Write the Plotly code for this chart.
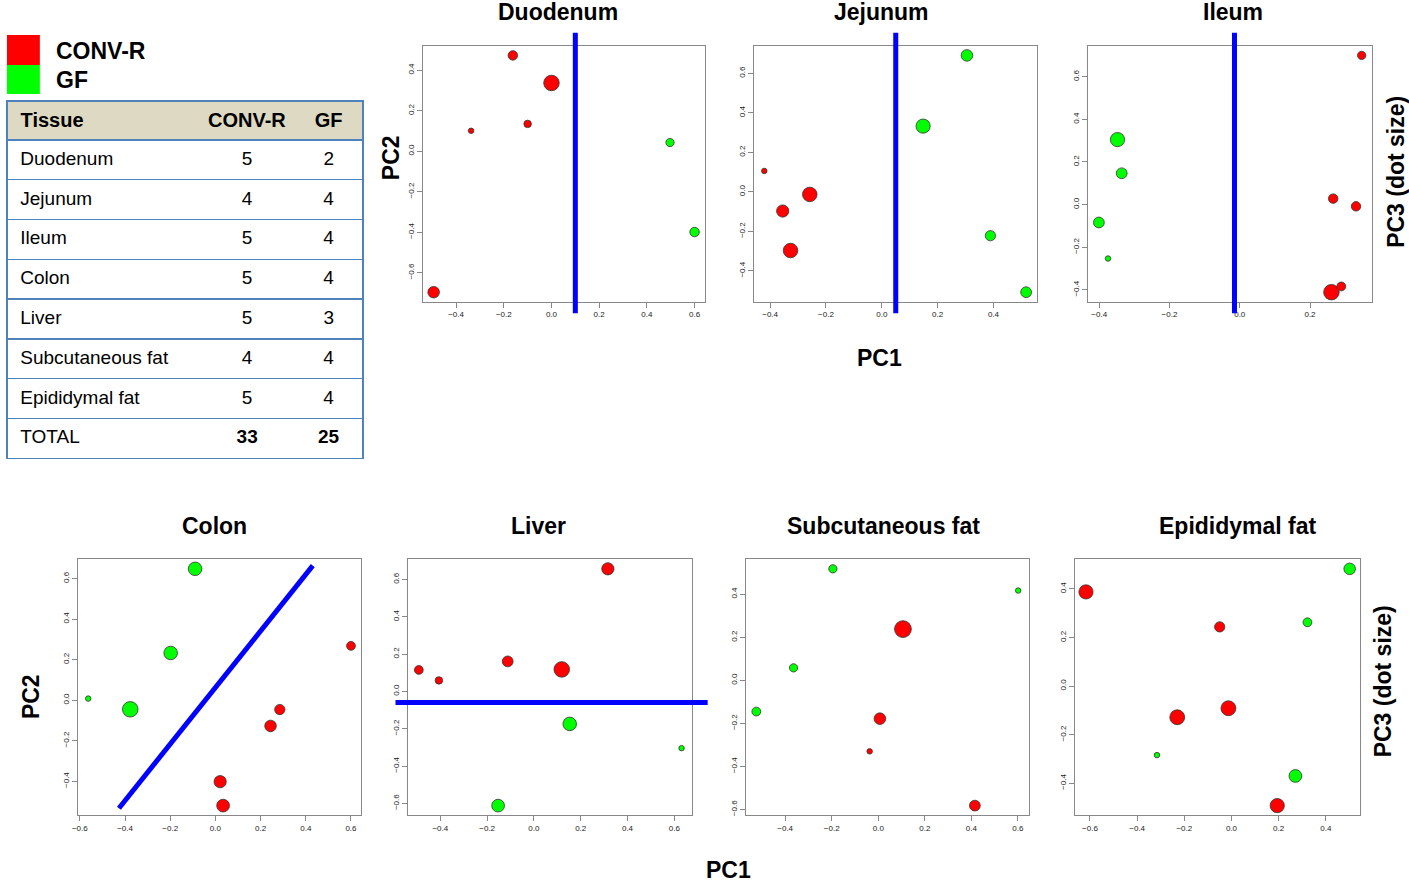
import plotly.graph_objects as go

# Sample counts per tissue (table on the left)
tissues = ["Duodenum", "Jejunum", "Ileum", "Colon", "Liver", "Subcutaneous fat", "Epididymal fat"]
conv_counts = [5, 4, 5, 5, 5, 4, 5]
gf_counts = [2, 4, 4, 4, 3, 4, 4]

# PCA scores, CONV-R samples first then GF (pc3 drives the dot size)
duodenum_pc1 = [-0.494, -0.162, 0.000, -0.337, -0.100, 0.497, 0.600]
duodenum_pc2 = [-0.696, 0.473, 0.337, 0.101, 0.135, 0.043, -0.399]
duodenum_pc3 = [0.55, 0.36, 0.91, 0.00, 0.18, 0.25, 0.36]

jejunum_pc1 = [-0.421, -0.258, -0.355, -0.327, 0.305, 0.148, 0.389, 0.517]
jejunum_pc2 = [0.106, -0.013, -0.097, -0.297, 0.691, 0.333, -0.222, -0.508]
jejunum_pc3 = [0.00, 0.82, 0.61, 0.82, 0.55, 0.79, 0.43, 0.48]

ileum_pc1 = [0.347, 0.266, 0.331, 0.261, 0.289, -0.348, -0.336, -0.401, -0.375]
ileum_pc2 = [0.700, 0.028, -0.008, -0.411, -0.384, 0.305, 0.147, -0.084, -0.253]
ileum_pc3 = [0.25, 0.36, 0.36, 0.91, 0.30, 0.79, 0.48, 0.48, 0.00]

colon_pc1 = [0.600, 0.285, 0.244, 0.021, 0.034, -0.563, -0.377, -0.198, -0.090]
colon_pc2 = [0.268, -0.046, -0.127, -0.402, -0.520, 0.008, -0.045, 0.233, 0.648]
colon_pc3 = [0.30, 0.43, 0.55, 0.61, 0.66, 0.00, 0.91, 0.73, 0.73]

liver_pc1 = [-0.492, -0.406, -0.112, 0.119, 0.316, 0.153, 0.631, -0.153]
liver_pc2 = [0.115, 0.059, 0.161, 0.118, 0.657, -0.174, -0.304, -0.612]
liver_pc3 = [0.30, 0.18, 0.48, 0.91, 0.61, 0.73, 0.00, 0.66]

subcut_pc1 = [0.106, 0.007, -0.037, 0.415, -0.195, 0.601, -0.364, -0.524]
subcut_pc2 = [0.238, -0.178, -0.330, -0.582, 0.518, 0.417, 0.058, -0.145]
subcut_pc3 = [1.03, 0.55, 0.00, 0.48, 0.25, 0.00, 0.25, 0.30]

epid_pc1 = [-0.617, -0.050, -0.230, -0.013, 0.194, 0.501, 0.322, -0.316, 0.271]
epid_pc2 = [0.388, 0.244, -0.128, -0.091, -0.492, 0.483, 0.263, -0.284, -0.370]
epid_pc3 = [0.79, 0.43, 0.85, 0.85, 0.79, 0.55, 0.30, 0.00, 0.66]

# separating lines
vertical_cut_tissues = ["Duodenum", "Jejunum", "Ileum"]
vertical_cut_pc1 = [0.10, 0.05, -0.015]
liver_cut_pc2 = -0.06
colon_cut_pc1 = [-0.427, 0.431]
colon_cut_pc2 = [-0.533, 0.664]

scores = {
    "Duodenum": (duodenum_pc1, duodenum_pc2, duodenum_pc3),
    "Jejunum": (jejunum_pc1, jejunum_pc2, jejunum_pc3),
    "Ileum": (ileum_pc1, ileum_pc2, ileum_pc3),
    "Colon": (colon_pc1, colon_pc2, colon_pc3),
    "Liver": (liver_pc1, liver_pc2, liver_pc3),
    "Subcutaneous fat": (subcut_pc1, subcut_pc2, subcut_pc3),
    "Epididymal fat": (epid_pc1, epid_pc2, epid_pc3),
}

RED = "#ff0000"
GREEN = "#00ff00"
BLUE = "#0000ff"
FONT = "Liberation Sans, Arial, Helvetica, sans-serif"
W, H = 1409, 885

# panel boxes in pixels (left, right, top, bottom)
boxes = {
    "Duodenum": (419, 702, 46, 302),
    "Jejunum": (751, 1035, 46, 302),
    "Ileum": (1087, 1372, 46, 302),
    "Colon": (72, 357, 560, 816),
    "Liver": (404, 689, 560, 816),
    "Subcutaneous fat": (743, 1027, 560, 816),
    "Epididymal fat": (1074, 1360, 560, 816),
}
title_x = {"Duodenum": 554, "Jejunum": 879, "Ileum": 1232, "Colon": 209,
           "Liver": 535, "Subcutaneous fat": 881, "Epididymal fat": 1237}


def r_range(v):
    lo, hi = min(v), max(v)
    pad = 0.04 * (hi - lo)
    return [lo - pad, hi + pad]


fig = go.Figure()
annotations = []
shapes = []

for i, t in enumerate(tissues):
    n = i + 1
    sfx = "" if n == 1 else str(n)
    pc1, pc2, pc3 = scores[t]
    colors = [RED] * conv_counts[i] + [GREEN] * gf_counts[i]
    sizes = [5.5 + 11 * p for p in pc3]
    fig.add_trace(go.Scatter(
        x=pc1, y=pc2, mode="markers", xaxis="x" + sfx, yaxis="y" + sfx,
        marker=dict(color=colors, size=sizes, opacity=1,
                    line=dict(color="#333", width=0.8)),
        showlegend=False, hoverinfo="x+y"))

    l, r, tp, b = boxes[t]
    axis_common = dict(showline=True, mirror=True, linecolor="#888", linewidth=1,
                       ticks="outside", ticklen=5, tickcolor="#888", showgrid=False,
                       zeroline=False, tick0=0, dtick=0.2, tickformat=".1f",
                       tickfont=dict(family=FONT, size=8, color="#222"))
    fig.update_layout(**{
        "xaxis" + sfx: dict(domain=[l / W, r / W], range=r_range(pc1),
                            anchor="y" + sfx, **axis_common),
        "yaxis" + sfx: dict(domain=[1 - b / H, 1 - tp / H], range=r_range(pc2),
                            anchor="x" + sfx, tickangle=-90, **axis_common),
    })
    annotations.append(dict(text="<b>%s</b>" % t, x=title_x[t] / W,
                            y=1 - (12 if tp < 100 else 527) / H,
                            xref="paper", yref="paper", showarrow=False,
                            xanchor="center", yanchor="middle",
                            font=dict(family=FONT, size=23, color="black")))

    if t in vertical_cut_tissues:
        cx = vertical_cut_pc1[vertical_cut_tissues.index(t)]
        shapes.append(dict(type="line", xref="x" + sfx, yref="y" + sfx + " domain",
                           x0=cx, x1=cx, y0=-0.045, y1=1.052,
                           line=dict(color=BLUE, width=5)))
    if t == "Liver":
        shapes.append(dict(type="line", xref="x" + sfx + " domain", yref="y" + sfx,
                           x0=-0.045, x1=1.055, y0=liver_cut_pc2, y1=liver_cut_pc2,
                           line=dict(color=BLUE, width=5)))
    if t == "Colon":
        shapes.append(dict(type="line", xref="x" + sfx, yref="y" + sfx,
                           x0=colon_cut_pc1[0], x1=colon_cut_pc1[1],
                           y0=colon_cut_pc2[0], y1=colon_cut_pc2[1],
                           line=dict(color=BLUE, width=5)))

# axis labels
big = dict(family=FONT, size=23, color="black")
for txt, px, py, ang in [("PC2", 386, 158, -90), ("PC2", 25, 697, -90),
                         ("PC1", 877, 358, 0), ("PC1", 726, 871, 0),
                         ("PC3 (dot size)", 1396, 172, -90),
                         ("PC3 (dot size)", 1383, 682, -90)]:
    annotations.append(dict(text="<b>%s</b>" % txt, x=px / W, y=1 - py / H,
                            xref="paper", yref="paper", showarrow=False,
                            textangle=ang, xanchor="center", yanchor="middle",
                            font=big))

# colour key
shapes.append(dict(type="rect", xref="paper", yref="paper", x0=1 / W, x1=34 / W,
                   y0=1 - 65 / H, y1=1 - 35 / H, fillcolor=RED, line=dict(width=0)))
shapes.append(dict(type="rect", xref="paper", yref="paper", x0=1 / W, x1=34 / W,
                   y0=1 - 94 / H, y1=1 - 65 / H, fillcolor=GREEN, line=dict(width=0)))
for txt, py in [("CONV-R", 51), ("GF", 80)]:
    annotations.append(dict(text="<b>%s</b>" % txt, x=48 / W, y=1 - py / H,
                            xref="paper", yref="paper", showarrow=False,
                            xanchor="left", yanchor="middle", font=big))

# table: background layer draws only the horizontal rules and the header fill
tbl_domain = dict(x=[1 / W, 359 / W], y=[1 - 462 / H, 1 - 101 / H])
n_rows = len(tissues) + 1
fig.add_trace(go.Table(
    domain=tbl_domain,
    header=dict(values=[""], fill_color="#ddd9c3", line=dict(color="#4f81bd", width=1.5),
                height=39),
    cells=dict(values=[[""] * n_rows], fill_color="white",
               line=dict(color="#4f81bd", width=1.5), height=39.8),
))


def rich(v):
    return "<span>%s</span>" % v


fig.add_trace(go.Table(
    domain=tbl_domain,
    columnwidth=[194, 95, 69],
    header=dict(values=["&nbsp;<b>Tissue</b>", "<b>CONV-R</b>", "<b>GF</b>"],
                align=["left", "center", "center"], fill_color="rgba(0,0,0,0)",
                line=dict(width=0), height=39,
                font=dict(family=FONT, size=20, color="black")),
    cells=dict(values=[["&nbsp;" + rich(t) for t in tissues + ["TOTAL"]],
                       [rich(c) for c in conv_counts] + ["<b>%d</b>" % sum(conv_counts)],
                       [rich(c) for c in gf_counts] + ["<b>%d</b>" % sum(gf_counts)]],
               align=["left", "center", "center"], fill_color="rgba(0,0,0,0)",
               line=dict(width=0), height=39.8,
               font=dict(family=FONT, size=19, color="black")),
))

fig.update_layout(width=W, height=H, margin=dict(l=0, r=0, t=0, b=0),
                  paper_bgcolor="white", plot_bgcolor="white",
                  annotations=annotations, shapes=shapes, showlegend=False)

fig.write_html("out.html", config={"displayModeBar": False},
               post_script="document.body.style.margin='0';"
                           "document.body.style.overflow='hidden';")
